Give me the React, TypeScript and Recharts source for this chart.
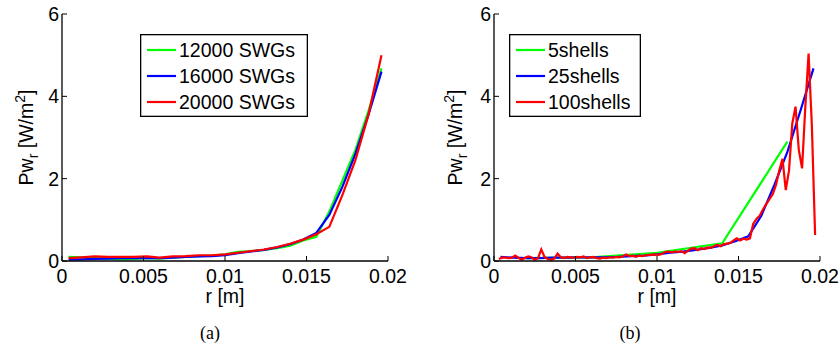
import React from "react"
import { LineChart, Line, XAxis, YAxis, Legend, Label } from "recharts"

// radial grid for the 25-bin runs (m)
const rGrid25 = [
  0.0004, 0.0012, 0.002, 0.0028, 0.0036, 0.0044, 0.0052, 0.006, 0.0068, 0.0076,
  0.0084, 0.0092, 0.01, 0.0108, 0.0116, 0.0124, 0.0132, 0.014, 0.0148, 0.0156,
  0.0164, 0.0172, 0.018, 0.0188, 0.0196,
]

// panel (a): number of SWGs
const swg12000 = [
  0.1, 0.09, 0.08, 0.06, 0.04, 0.05, 0.07, 0.06, 0.08, 0.1,
  0.12, 0.13, 0.16, 0.22, 0.24, 0.27, 0.31, 0.37, 0.5, 0.59,
  1.2, 1.95, 2.7, 3.65, 4.68,
]
const swg16000 = [
  0.03, 0.04, 0.05, 0.06, 0.07, 0.07, 0.07, 0.07, 0.08, 0.1,
  0.11, 0.12, 0.14, 0.19, 0.23, 0.27, 0.33, 0.41, 0.52, 0.68,
  1.12, 1.8, 2.6, 3.55, 4.6,
]
const swg20000 = [
  0.07, 0.09, 0.11, 0.1, 0.1, 0.1, 0.11, 0.08, 0.11, 0.12,
  0.14, 0.14, 0.16, 0.2, 0.24, 0.28, 0.34, 0.42, 0.52, 0.65,
  0.83, 1.6, 2.45, 3.55, 5.0,
]

// panel (b): number of shells
const shells5R = [0.002, 0.006, 0.01, 0.014, 0.018]
const shells5V = [0.07, 0.09, 0.2, 0.43, 2.9]

const shells25V = [
  0.1, 0.08, 0.07, 0.07, 0.08, 0.08, 0.09, 0.09, 0.09, 0.1,
  0.12, 0.13, 0.16, 0.2, 0.23, 0.27, 0.32, 0.38, 0.48, 0.6,
  1.1, 1.85, 2.65, 3.65, 4.68,
]

const shells100R = [
  0.0003, 0.0005, 0.0007, 0.0009, 0.0011, 0.0013, 0.0015, 0.0017, 0.0019, 0.0021,
  0.0023, 0.0025, 0.0027, 0.0029, 0.0031, 0.0033, 0.0035, 0.0037, 0.0039, 0.0041,
  0.0043, 0.0045, 0.0047, 0.0049, 0.0051, 0.0053, 0.0055, 0.0057, 0.0059, 0.0061,
  0.0063, 0.0065, 0.0067, 0.0069, 0.0071, 0.0073, 0.0075, 0.0077, 0.0079, 0.0081,
  0.0083, 0.0085, 0.0087, 0.0089, 0.0091, 0.0093, 0.0095, 0.0097, 0.0099, 0.0101,
  0.0103, 0.0105, 0.0107, 0.0109, 0.0111, 0.0113, 0.0115, 0.0117, 0.0119, 0.0121,
  0.0123, 0.0125, 0.0127, 0.0129, 0.0131, 0.0133, 0.0135, 0.0137, 0.0139, 0.0141,
  0.0143, 0.0145, 0.0147, 0.0149, 0.0151, 0.0153, 0.0155, 0.0157, 0.0159, 0.0161,
  0.0163, 0.0165, 0.0167, 0.0169, 0.0171, 0.0173, 0.0175, 0.0177, 0.0179, 0.0181,
  0.0183, 0.0185, 0.0187, 0.0189, 0.0191, 0.0193, 0.0195, 0.0197,
]
const shells100V = [
  0.05, 0.08, 0.08, 0.07, 0.08, 0.13, 0.08, 0.03, 0.08, 0.11,
  0.09, 0.03, 0.07, 0.28, 0.1, 0.05, 0.03, 0.06, 0.18, 0.09,
  0.07, 0.1, 0.09, 0.08, 0.1, 0.09, 0.11, 0.07, 0.09, 0.1,
  0.07, 0.06, 0.08, 0.07, 0.09, 0.08, 0.1, 0.09, 0.11, 0.16,
  0.12, 0.13, 0.1, 0.13, 0.12, 0.14, 0.15, 0.15, 0.16, 0.15,
  0.17, 0.22, 0.23, 0.21, 0.23, 0.22, 0.24, 0.19, 0.25, 0.3,
  0.31, 0.26, 0.31, 0.29, 0.33, 0.32, 0.36, 0.39, 0.36, 0.41,
  0.42, 0.44, 0.5, 0.55, 0.5, 0.54, 0.52, 0.55, 0.9, 1.02,
  1.1, 1.25, 1.38, 1.5, 1.62, 1.85, 2.2, 2.48, 1.72, 2.2,
  3.34, 3.75, 2.7, 2.25, 3.75, 5.04, 3.3, 0.63,
]

const xTicks = [0, 0.005, 0.01, 0.015, 0.02]
const yTicks = [0, 2, 4, 6]

const FONT = '"Liberation Sans", Arial, Helvetica, sans-serif'
const FS = 19.5

const toPoints = (rs: number[], vs: number[]) => rs.map((r, i) => ({ r, v: vs[i] }))

const seriesA = [
  { name: "12000 SWGs", color: "#00ff00", data: toPoints(rGrid25, swg12000) },
  { name: "16000 SWGs", color: "#0000ff", data: toPoints(rGrid25, swg16000) },
  { name: "20000 SWGs", color: "#ff0000", data: toPoints(rGrid25, swg20000) },
]
const seriesB = [
  { name: "5shells", color: "#00ff00", data: toPoints(shells5R, shells5V) },
  { name: "25shells", color: "#0000ff", data: toPoints(rGrid25, shells25V) },
  { name: "100shells", color: "#ff0000", data: toPoints(shells100R, shells100V) },
]

// inward MATLAB-style ticks
const BottomTick = (props: any) => {
  const { x, y, payload } = props
  return (
    <g>
      <line x1={x} y1={y} x2={x} y2={y - 5} stroke="#000" strokeWidth={1} />
      <text x={x} y={y + 22} textAnchor="middle" fontSize={FS} fontFamily={FONT} fill="#000">
        {String(payload.value)}
      </text>
    </g>
  )
}
const LeftTick = (props: any) => {
  const { x, y, payload } = props
  return (
    <g>
      <line x1={x} y1={y} x2={x + 5} y2={y} stroke="#000" strokeWidth={1} />
      <text x={x - 3} y={y + 7} textAnchor="end" fontSize={FS} fontFamily={FONT} fill="#000">
        {String(payload.value)}
      </text>
    </g>
  )
}
const TopTick = (props: any) => {
  const { x, y } = props
  return <line x1={x} y1={y} x2={x} y2={y + 5} stroke="#000" strokeWidth={1} />
}
const RightTick = (props: any) => {
  const { x, y } = props
  return <line x1={x} y1={y} x2={x - 5} y2={y} stroke="#000" strokeWidth={1} />
}

function Panel({ series, offsetLeft, marginLeft, marginRight, legendLeft, legendWidth, yLabelX, caption }: any) {
  const W = 420
  const H = 349
  const order = series.map((s: any) => s.name)

  const renderLegend = (p: any) => {
    const items = [...(p.payload || [])].sort(
      (a: any, b: any) => order.indexOf(a.value) - order.indexOf(b.value),
    )
    return (
      <svg width={legendWidth} height={83} style={{ display: "block" }}>
        <rect x={0.65} y={0.65} width={legendWidth - 1.3} height={81.7} fill="#fff" stroke="#000" strokeWidth={1.3} />
        {items.map((item: any, i: number) => (
          <g key={i}>
            <line x1={7} x2={36} y1={16 + i * 26} y2={16 + i * 26} stroke={item.color} strokeWidth={2.2} />
            <text x={39} y={16 + i * 26 + 7} fontSize={FS} fontFamily={FONT} fill="#000">
              {item.value}
            </text>
          </g>
        ))}
      </svg>
    )
  }

  return (
    <div style={{ position: "absolute", left: offsetLeft, top: 0, width: W, height: H }}>
      <LineChart
        width={W}
        height={H}
        margin={{ top: 14, right: marginRight, bottom: 58, left: marginLeft }}
      >
        <XAxis
          dataKey="r"
          type="number"
          domain={[0, 0.02]}
          ticks={xTicks}
          allowDataOverflow
          height={30}
          tickSize={0}
          tickMargin={0}
          tickLine={false}
          axisLine={{ stroke: "#000", strokeWidth: 1.3 }}
          tick={<BottomTick />}
          interval={0}
        >
          <Label
            content={(lp: any) => {
              const vb = lp.viewBox
              return (
                <text x={vb.x + vb.width / 2} y={vb.y + 42} textAnchor="middle" fontSize={FS} fontFamily={FONT} fill="#000">
                  r [m]
                </text>
              )
            }}
          />
        </XAxis>
        <XAxis
          xAxisId="top"
          orientation="top"
          dataKey="r"
          type="number"
          domain={[0, 0.02]}
          ticks={xTicks}
          allowDataOverflow
          height={0}
          tickSize={0}
          tickMargin={0}
          tickLine={false}
          axisLine={{ stroke: "#000", strokeWidth: 1.3 }}
          tick={<TopTick />}
          interval={0}
        />
        <YAxis
          type="number"
          domain={[0, 6]}
          ticks={yTicks}
          allowDataOverflow
          width={50}
          tickSize={0}
          tickMargin={0}
          tickLine={false}
          axisLine={{ stroke: "#000", strokeWidth: 1.3 }}
          tick={<LeftTick />}
          interval={0}
        >
          <Label
            content={(lp: any) => {
              const vb = lp.viewBox
              const cy = vb.y + vb.height / 2
              const x = yLabelX
              return (
                <text
                  x={x}
                  y={cy}
                  transform={`rotate(-90, ${x}, ${cy})`}
                  textAnchor="middle"
                  fontSize={FS}
                  fontFamily={FONT}
                  fill="#000"
                >
                  Pw
                  <tspan fontSize={14} dy={5}>r</tspan>
                  <tspan dy={-5}> [W/m</tspan>
                  <tspan fontSize={14} dy={-8}>2</tspan>
                  <tspan dy={8}>]</tspan>
                </text>
              )
            }}
          />
        </YAxis>
        <YAxis
          yAxisId="right"
          orientation="right"
          type="number"
          domain={[0, 6]}
          ticks={yTicks}
          allowDataOverflow
          width={0}
          tickSize={0}
          tickMargin={0}
          tickLine={false}
          axisLine={{ stroke: "#000", strokeWidth: 1.3 }}
          tick={<RightTick />}
          interval={0}
        />
        <Legend
          layout="vertical"
          align="center"
          verticalAlign="middle"
          content={renderLegend}
          wrapperStyle={{ left: legendLeft, top: 34, width: legendWidth, height: 83 }}
        />
        {series.map((s: any) => (
          <Line
            key={s.name}
            data={s.data}
            dataKey="v"
            name={s.name}
            stroke={s.color}
            strokeWidth={2.2}
            dot={false}
            activeDot={false}
            isAnimationActive={false}
            legendType="line"
          />
        ))}
      </LineChart>
      <div
        style={{
          position: "absolute",
          left: 0,
          width: W,
          top: 323,
          textAlign: "center",
          fontFamily: '"Liberation Serif", "DejaVu Serif", serif',
          fontSize: 18,
          lineHeight: "20px",
          color: "#000",
        }}
      >
        {caption}
      </div>
    </div>
  )
}

export default function App() {
  return (
    <div style={{ position: "absolute", left: 0, top: 0, width: 840, height: 349, background: "#fff" }}>
      <Panel
        series={seriesA}
        offsetLeft={0}
        marginLeft={12}
        marginRight={32}
        legendLeft={140}
        legendWidth={168}
        yLabelX={33}
        caption="(a)"
      />
      <Panel
        series={seriesB}
        offsetLeft={420}
        marginLeft={24}
        marginRight={20}
        legendLeft={89}
        legendWidth={132}
        yLabelX={42}
        caption="(b)"
      />
    </div>
  )
}
